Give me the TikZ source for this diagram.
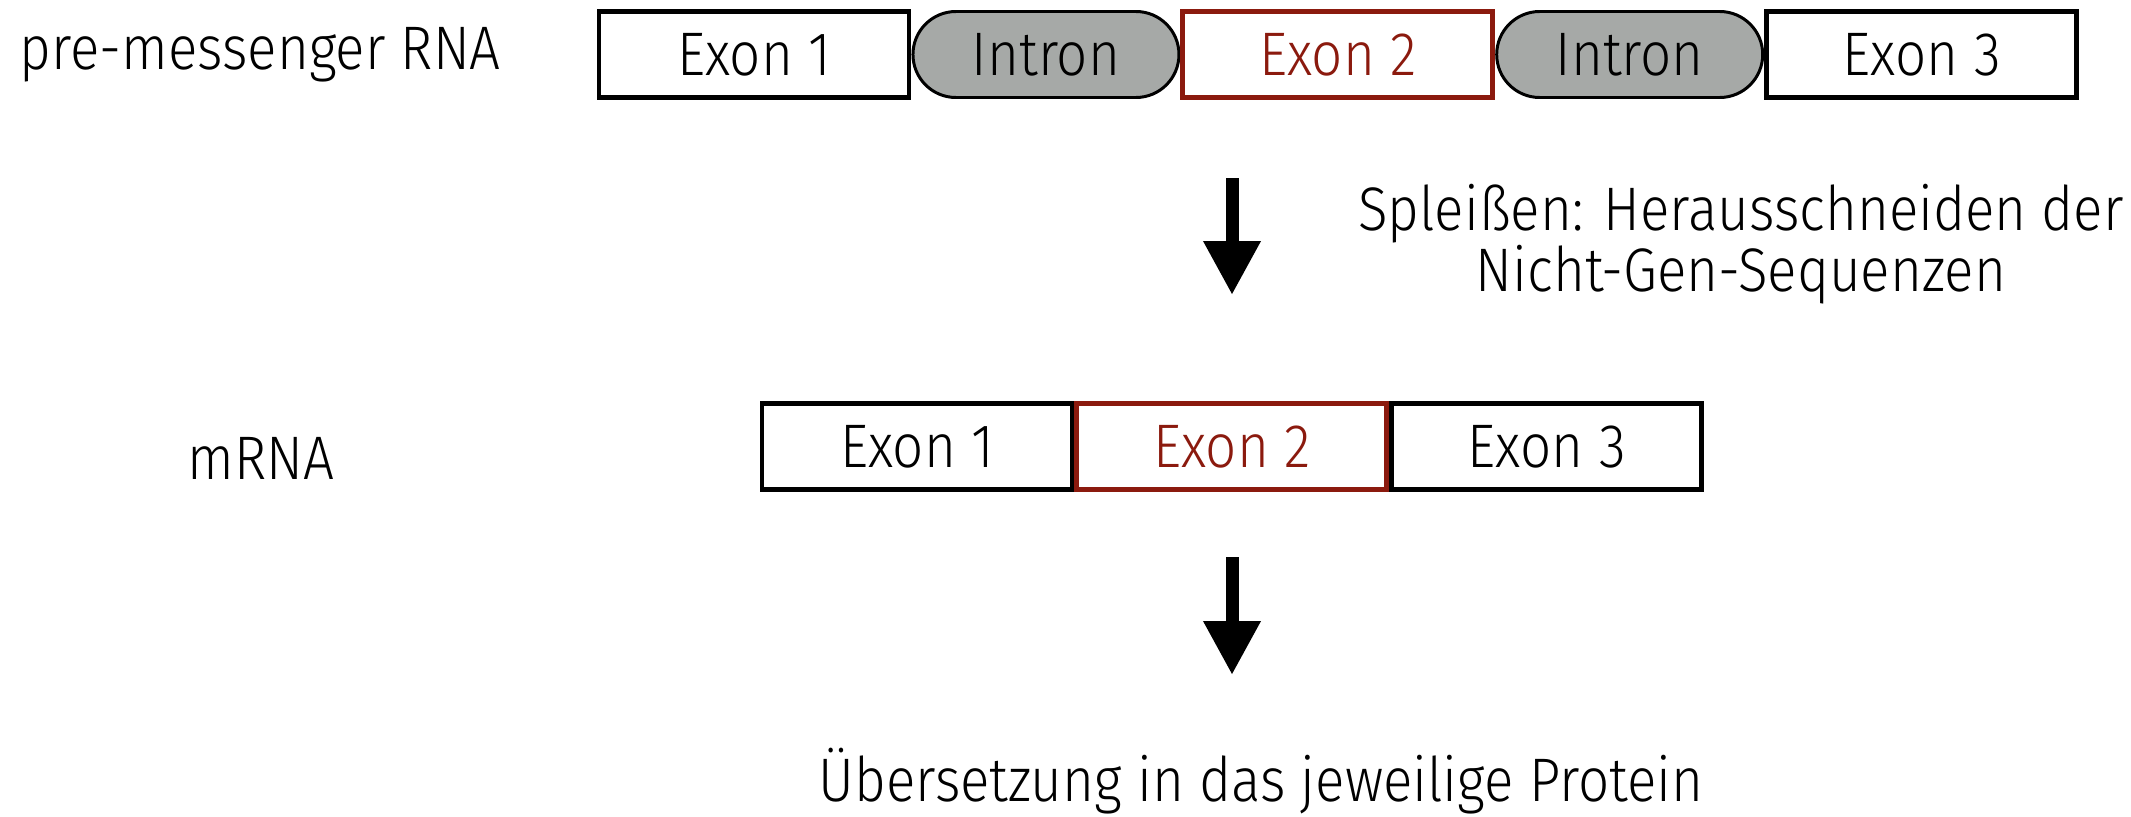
\documentclass[tikz,border=0pt]{standalone}
\usepackage{fontspec}
\setmainfont{Fira Sans}[UprightFont={* Light},FakeStretch=0.89]
\usepackage{xcolor}
\usepackage{tikz}
\usetikzlibrary{shapes.misc,arrows.meta,positioning}
\definecolor{rot}{HTML}{8B1A0E}
\definecolor{grau}{HTML}{A6A9A7}
\newcommand{\schrift}{\fontsize{17.5}{17.2}\selectfont}
\tikzset{
  exon/.style={draw=black,fill=white,line width=1.4pt,minimum width=31mm,minimum height=8.6mm,inner sep=0pt,font=\schrift},
  exonrot/.style={exon,draw=rot,text=rot,line width=1.35pt},
  intron/.style={rounded rectangle,draw=black,fill=grau,line width=0.85pt,minimum width=26.6mm,minimum height=8.6mm,inner sep=0pt,font=\schrift},
  pfeil/.style={-{Triangle[width=5.4mm,length=5.4mm]},line width=3.7pt},
  etikett/.style={font=\schrift,inner sep=0pt,align=center},
}

\begin{document}
\begin{tikzpicture}
  \useasboundingbox (0,0) rectangle (21.31,8.16);
  % pre-mRNA
  \node[etikett,anchor=west] (prelabel) at (0.19,7.615) {pre-messenger RNA};
  \node[exon] (pe1) at (7.54,7.615) {Exon 1};
  \node[intron,right=0 of pe1] (pi1) {Intron};
  \node[exonrot,right=0 of pi1] (pe2) {Exon 2};
  \node[intron,right=0 of pe2] (pi2) {Intron};
  \node[exon,right=0 of pi2] (pe3) {Exon 3};
  % reife mRNA
  \node[etikett] (mlabel) at (2.61,3.58) {mRNA};
  \node[exon] (me1) at (9.17,3.695) {Exon 1};
  \node[exonrot,right=0 of me1] (me2) {Exon 2};
  \node[exon,right=0 of me2] (me3) {Exon 3};
  % Pfeile
  \coordinate (p1start) at (12.32,6.38);
  \coordinate (p1ende) at (12.32,5.21);
  \coordinate (p2start) at (12.32,2.59);
  \coordinate (p2ende) at (12.32,1.41);
  \draw[pfeil] (p1start) -- (p1ende);
  \draw[pfeil] (p2start) -- (p2ende);
  \node[etikett] (spleiss) at (17.41,5.72) {Spleißen: Herausschneiden der\\Nicht-Gen-Sequenzen};
  \node[etikett] (protein) at (12.61,0.35) {Übersetzung in das jeweilige Protein};
\end{tikzpicture}
\end{document}
